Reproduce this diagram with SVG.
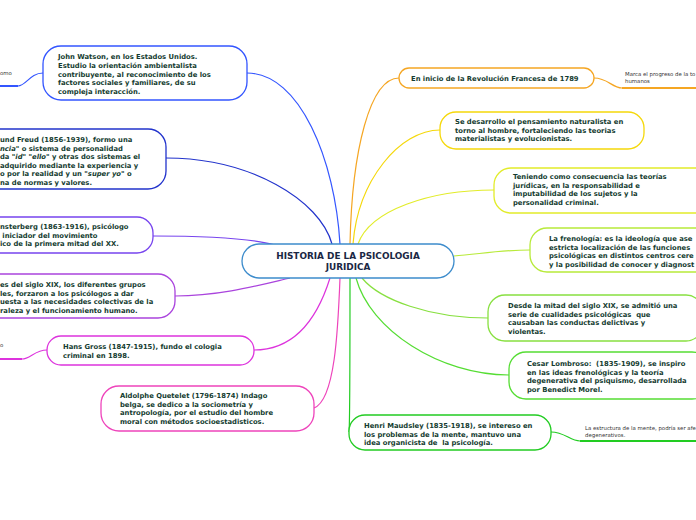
<svg xmlns="http://www.w3.org/2000/svg" width="696" height="520" viewBox="0 0 696 520">
<style>
.n{fill:#fff;stroke-width:1.3}
.t{font-family:"DejaVu Sans",sans-serif;font-weight:bold;font-size:6.8px;fill:#143c30}
.c{font-family:"DejaVu Sans",sans-serif;font-weight:bold;font-size:8.9px;fill:#1a2744}
.s{font-family:"DejaVu Sans",sans-serif;font-size:5.4px;fill:#333}
.l{fill:none;stroke-width:1.2}
.u{fill:none;stroke-width:2}
</style>
<rect width="696" height="520" fill="#fff"/>
<g id="connectors">
<path class="l" stroke="#3355ff" d="M247,73 C300,73 335,160 340,244"/>
<path class="l" stroke="#2233cc" d="M166,158 C250,158 320,200 332,244"/>
<path class="l" stroke="#7744ee" d="M153,236 C210,236 250,238 275,245"/>
<path class="l" stroke="#aa44dd" d="M175,296 C220,296 260,285 290,278"/>
<path class="l" stroke="#dd33dd" d="M254,350 C300,350 320,310 330,278"/>
<path class="l" stroke="#ee44bb" d="M314,408 C335,400 338,330 340,278"/>
<path class="l" stroke="#f5a623" d="M399,78 C370,78 352,150 350,244"/>
<path class="l" stroke="#f5d80a" d="M440,130 C400,130 358,180 353,244"/>
<path class="l" stroke="#e2ec2a" d="M494,190 C430,190 370,210 358,244"/>
<path class="l" stroke="#b8ea3a" d="M530,250 C500,250 480,254 454,256"/>
<path class="l" stroke="#88e040" d="M488,318 C430,318 380,300 362,278"/>
<path class="l" stroke="#55dd33" d="M509,375 C440,375 370,330 356,278"/>
<path class="l" stroke="#22cc22" d="M350,278 C350,340 350,425 349,432"/>
<path class="l" stroke="#3355ff" d="M43,73 C30,73 26,86 18,86"/>
<path class="u" stroke="#3355ff" d="M0,86 L18,86"/>
<path class="l" stroke="#dd33dd" d="M47,350 C35,350 30,359 22,359"/>
<path class="u" stroke="#dd33dd" d="M0,359 L22,359"/>
<path class="l" stroke="#f5a623" d="M594,78 C608,78 612,88 622,88"/>
<path class="u" stroke="#f5a623" d="M622,88 L696,88"/>
<path class="l" stroke="#22cc22" d="M551,432 C565,432 570,441 580,441"/>
<path class="u" stroke="#22cc22" d="M580,441 L696,441"/>
</g>
<g id="center">
<rect class="n" x="242" y="244" width="212" height="34" rx="17" stroke="#3d8ccc"/>
<text class="c" x="348" y="259" text-anchor="middle">HISTORIA DE LA PSICOLOGIA</text>
<text class="c" x="348" y="270" text-anchor="middle">JURIDICA</text>
</g>
<g id="watson">
<rect class="n" x="43" y="46" width="204" height="54" rx="18" stroke="#3355ff"/>
<text class="t" x="58" y="59">John Watson, en los Estados Unidos.</text>
<text class="t" x="58" y="68">Estudio la orientación ambientalista</text>
<text class="t" x="58" y="77">contribuyente, al reconocimiento de los</text>
<text class="t" x="58" y="85">factores sociales y familiares, de su</text>
<text class="t" x="58" y="94">compleja interacción.</text>
</g>
<g id="watson-note"><text class="s" x="0" y="75">omo</text></g>
<g id="freud">
<rect class="n" x="-60" y="129" width="226" height="60" rx="18" stroke="#2233cc"/>
<text class="t" x="0" y="142">und Freud (1856-1939), formo una</text>
<text class="t" x="0" y="151"><tspan font-style="italic">ncia</tspan>" o sistema de personalidad</text>
<text class="t" x="0" y="159">da "<tspan font-style="italic">id</tspan>" "<tspan font-style="italic">ello</tspan>" y otras dos sistemas el</text>
<text class="t" x="0" y="168">adquirido mediante la experiencia y</text>
<text class="t" x="0" y="176">o por la realidad y un "<tspan font-style="italic">super yo</tspan>" o</text>
<text class="t" x="0" y="185">na de normas y valores.</text>
</g>
<g id="munsterberg">
<rect class="n" x="-60" y="217" width="213" height="36" rx="16" stroke="#7744ee"/>
<text class="t" x="0" y="229">nsterberg (1863-1916), psicólogo</text>
<text class="t" x="0" y="238" xml:space="preserve"> iniciador del movimiento</text>
<text class="t" x="0" y="246">ico de la primera mitad del XX.</text>
</g>
<g id="sigloxix">
<rect class="n" x="-60" y="274" width="235" height="44" rx="17" stroke="#aa44dd"/>
<text class="t" x="0" y="287">es del siglo XIX, los diferentes grupos</text>
<text class="t" x="0" y="296">les, forzaron a los psicólogos a dar</text>
<text class="t" x="0" y="304">uesta a las necesidades colectivas de la</text>
<text class="t" x="0" y="313">raleza y el funcionamiento humano.</text>
</g>
<g id="gross">
<rect class="n" x="47" y="336" width="207" height="29" rx="14" stroke="#dd33dd"/>
<text class="t" x="63" y="349">Hans Gross (1847-1915), fundo el cologia</text>
<text class="t" x="63" y="358">criminal en 1898.</text>
</g>
<g id="gross-note"><text class="s" x="0" y="347">o</text></g>
<g id="quetelet">
<rect class="n" x="101" y="386" width="213" height="45" rx="18" stroke="#ee44bb"/>
<text class="t" x="120" y="398">Aldolphe Quetelet (1796-1874) Indago</text>
<text class="t" x="120" y="407">belga, se dedico a la sociometría y</text>
<text class="t" x="120" y="415">antropología, por el estudio del hombre</text>
<text class="t" x="120" y="424">moral con métodos socioestadisticos.</text>
</g>
<g id="revolucion">
<rect class="n" x="399" y="68" width="195" height="20" rx="10" stroke="#f5a623"/>
<text class="t" x="411" y="81">En inicio de la Revolución Francesa de 1789</text>
</g>
<g id="revolucion-note">
<text class="s" x="625" y="76">Marca el progreso de la to</text>
<text class="s" x="625" y="83">humanos</text>
</g>
<g id="naturalista">
<rect class="n" x="440" y="112" width="204" height="37" rx="16" stroke="#f5d80a"/>
<text class="t" x="455" y="124">Se desarrollo el pensamiento naturalista en</text>
<text class="t" x="455" y="133">torno al hombre, fortaleciendo las teorias</text>
<text class="t" x="455" y="141">materialistas y evolucionistas.</text>
</g>
<g id="teniendo">
<rect class="n" x="494" y="168" width="220" height="45" rx="17" stroke="#e2ec2a"/>
<text class="t" x="513" y="179">Teniendo como consecuencia las teorías</text>
<text class="t" x="513" y="188">jurídicas, en la responsabilidad e</text>
<text class="t" x="513" y="196">imputabilidad de los sujetos y la</text>
<text class="t" x="513" y="205">personalidad criminal.</text>
</g>
<g id="frenologia">
<rect class="n" x="530" y="228" width="200" height="44" rx="17" stroke="#b8ea3a"/>
<text class="t" x="549" y="241">La frenología: es la ideología que ase</text>
<text class="t" x="549" y="250">estricta localización de las funciones</text>
<text class="t" x="549" y="258">psicológicas en distintos centros cere</text>
<text class="t" x="549" y="267">y la posibilidad de conocer y diagnost</text>
</g>
<g id="desde">
<rect class="n" x="488" y="295" width="215" height="46" rx="17" stroke="#88e040"/>
<text class="t" x="508" y="308">Desde la mitad del siglo XIX, se admitió una</text>
<text class="t" x="508" y="317" xml:space="preserve">serie de cualidades psicológicas  que</text>
<text class="t" x="508" y="325">causaban las conductas delictivas y</text>
<text class="t" x="508" y="334">violentas.</text>
</g>
<g id="lombroso">
<rect class="n" x="509" y="352" width="200" height="47" rx="17" stroke="#55dd33"/>
<text class="t" x="527" y="366" xml:space="preserve">Cesar Lombroso:  (1835-1909), se inspiro</text>
<text class="t" x="527" y="375">en las ideas frenológicas y la teoría</text>
<text class="t" x="527" y="383">degenerativa del psiquismo, desarrollada</text>
<text class="t" x="527" y="392">por Benedict Morel.</text>
</g>
<g id="maudsley">
<rect class="n" x="349" y="415" width="202" height="35" rx="16" stroke="#22cc22"/>
<text class="t" x="364" y="428">Henri Maudsley (1835-1918), se intereso en</text>
<text class="t" x="364" y="437">los problemas de la mente, mantuvo una</text>
<text class="t" x="364" y="445" xml:space="preserve">idea organicista de  la psicología.</text>
</g>
<g id="maudsley-note">
<text class="s" x="585" y="430">La estructura de la mente, podría ser afe</text>
<text class="s" x="585" y="437">degenerativos.</text>
</g>
</svg>
